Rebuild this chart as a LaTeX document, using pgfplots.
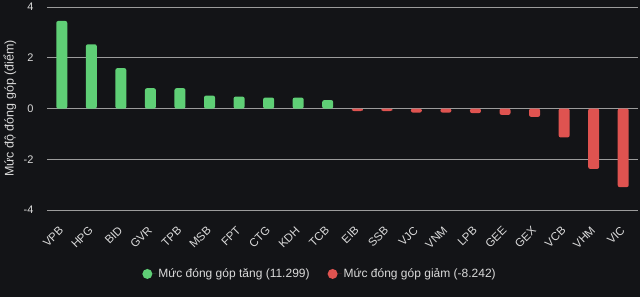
\documentclass[border=0pt]{standalone}
\usepackage{fontspec}
\setmainfont{Liberation Sans}
\usepackage{pgfplots}
\pgfplotsset{compat=1.18}
\definecolor{bg}{HTML}{131417}
\definecolor{txt}{HTML}{DADADA}
\definecolor{gridc}{HTML}{9C9C9C}
\definecolor{upc}{HTML}{5FCF76}
\definecolor{downc}{HTML}{DF5350}
\begin{document}
\begin{tikzpicture}
\fill[bg] (0,0) rectangle (640pt,297pt);
\useasboundingbox (0,0) rectangle (640pt,297pt);
\begin{axis}[
  at={(47pt,87pt)}, anchor=south west,
  scale only axis, width=591pt, height=203pt,
  xmin=-0.5, xmax=19.5, ymin=-4, ymax=4,
  ytick={-4,-2,0,2,4},
  xtick={0,...,19},
  xticklabels={VPB,HPG,BID,GVR,TPB,MSB,FPT,CTG,KDH,TCB,EIB,SSB,VJC,VNM,LPB,GEE,GEX,VCB,VHM,VIC},
  axis line style={draw=none},
  major tick length=0pt,
  ymajorgrids, grid style={gridc, line width=0.9pt},
  tick label style={text=txt},
  /pgf/number format/assume math mode=true,
  yticklabel style={font=\fontsize{11}{13}\selectfont, xshift=-10pt},
  xticklabel style={font=\fontsize{11.5}{13}\selectfont, xshift=2pt, yshift=-16pt, rotate=45, anchor=east},
  ylabel={Mức độ đóng góp (điểm)},
  ylabel style={font=\fontsize{12.5}{14}\selectfont, text=txt, at={(axis description cs:-0.063,0.5)}, anchor=center},
  ybar, bar width=11pt, bar shift=0pt,
  legend columns=2,
  legend style={at={(axis description cs:0.462,-0.315)}, anchor=center, draw=none, fill=none,
    text=txt, font=\fontsize{12}{14}\selectfont, /tikz/every even column/.append style={column sep=16pt}},
  legend image code/.code={\path (-5pt,0pt) -- (9pt,0pt); \fill[#1] (0pt,0pt) circle (5pt);},
]
\addplot[fill=upc, draw=none, rounded corners=2pt] coordinates {
  (0,3.45) (1,2.53) (2,1.59) (3,0.80) (4,0.80) (5,0.51) (6,0.47) (7,0.43) (8,0.43) (9,0.33)
};
\addlegendentry{Mức đóng góp tăng (11.299)}
\addplot[fill=downc, draw=none, rounded corners=2pt] coordinates {
  (10,-0.10) (11,-0.10) (12,-0.16) (13,-0.16) (14,-0.18) (15,-0.25) (16,-0.33) (17,-1.14) (18,-2.38) (19,-3.10)
};
\addlegendentry{Mức đóng góp giảm (-8.242)}
\end{axis}
\end{tikzpicture}
\end{document}
